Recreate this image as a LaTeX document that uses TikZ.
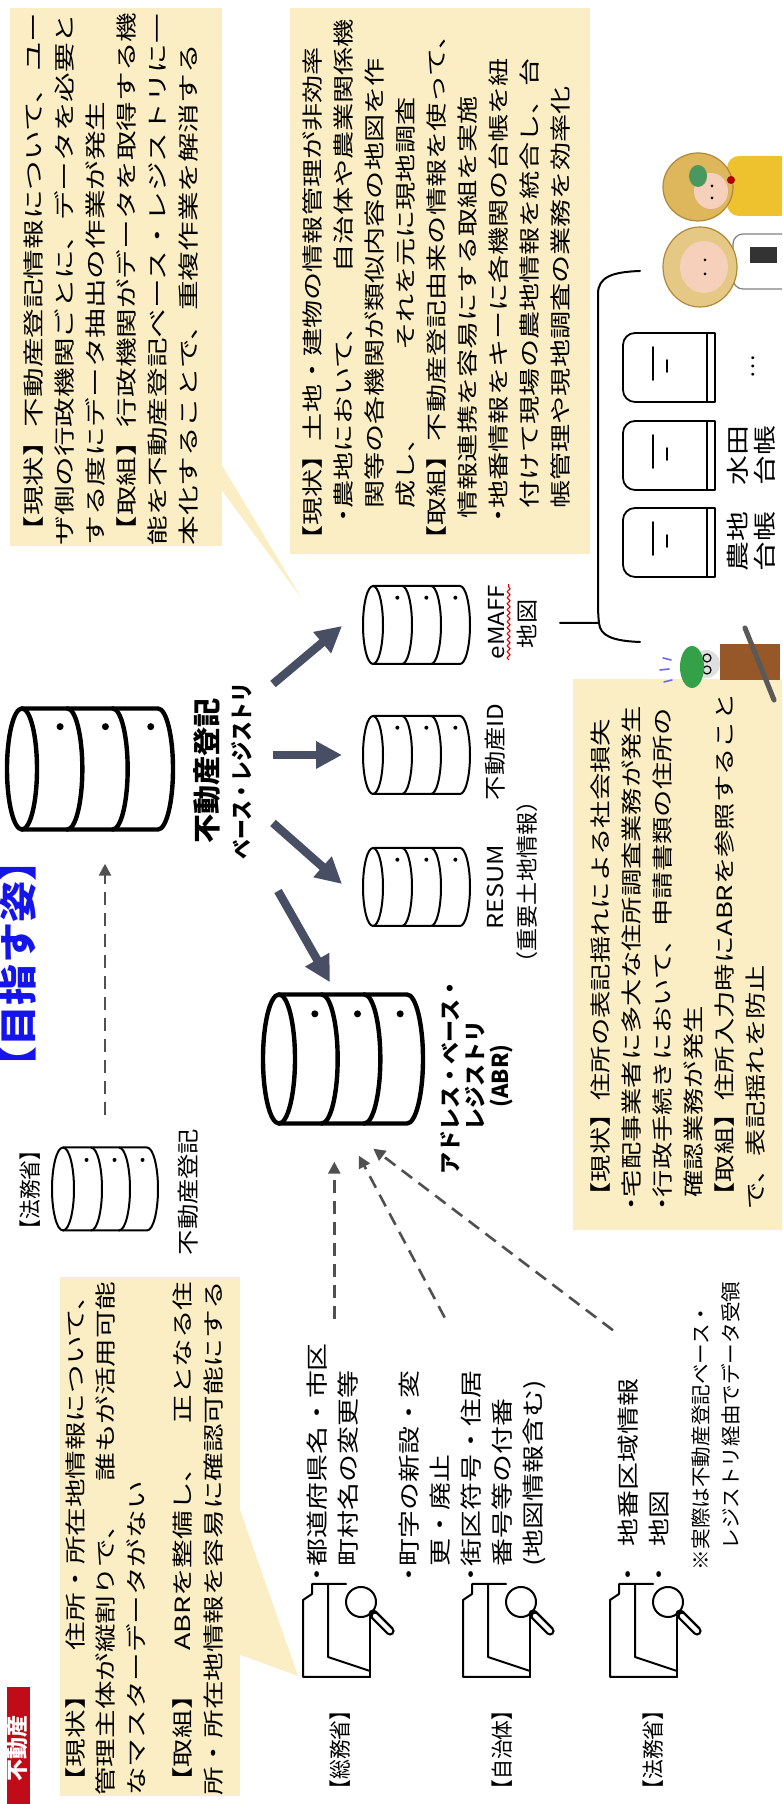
\documentclass[tikz,border=0pt]{standalone}
\usepackage{fontspec}
\usepackage{graphicx}
\usetikzlibrary{arrows.meta, calc, decorations.pathmorphing}

\newfontfamily\jp{Noto Sans CJK JP}

\definecolor{memo}{RGB}{251,238,196}
\definecolor{slate}{RGB}{72,78,100}
\definecolor{feedgray}{RGB}{80,80,80}
\definecolor{tagred}{RGB}{192,12,24}
\definecolor{goalblue}{RGB}{20,20,235}
\definecolor{straw}{RGB}{222,182,92}
\definecolor{strawdark}{RGB}{176,136,56}
\definecolor{skin}{RGB}{246,208,186}
\definecolor{dress}{RGB}{238,194,46}
\definecolor{scarf}{RGB}{74,152,96}
\definecolor{capgreen}{RGB}{52,160,72}
\definecolor{vest}{RGB}{150,88,40}

% stretch text along the reading direction
\newcommand{\wide}[2][1.28]{\scalebox{#1}[1]{#2}}

% upright drum of three discs, one dot per disc
% #1 centre, #2 top, #3 width, #4 height, #5 rim, #6 name, #7 dot, #8 style
\newcommand{\drum}[8]{%
  \begin{scope}[#8]
  \pgfmathsetmacro{\drx}{#3/2}
  \pgfmathsetmacro{\dtop}{-(#2)-(#5)}
  \pgfmathsetmacro{\dbot}{-(#2)-(#4)+(#5)}
  \pgfmathsetmacro{\dstep}{(\dtop-\dbot)/3}
  \node[inner sep=0pt, minimum width=#3*0.5pt, minimum height=#4*0.5pt] (#6) at (#1,{-(#2)-(#4)/2}) {};
  \draw (#1-\drx,\dtop) -- (#1-\drx,\dbot)
    arc[start angle=180, end angle=360, x radius=\drx, y radius=#5] -- (#1+\drx,\dtop);
  \draw (#1,\dtop) ellipse[x radius=\drx, y radius=#5];
  \foreach \k in {1,2}
    \draw (#1-\drx,\dtop-\k*\dstep) arc[start angle=180, end angle=360, x radius=\drx, y radius=#5];
  \foreach \k in {1,2,3}
    \fill ({#1+0.7*\drx},{\dtop-(\k-0.16)*\dstep}) circle[radius=#7];
  \end{scope}
}

\begin{document}
\begin{tikzpicture}[x=0.5pt, y=0.5pt, line cap=round, line join=round]
\tikzset{
  memotext/.style={anchor=base west, inner sep=0pt, font=\jp\fontsize{10.5pt}{15.5pt}\selectfont},
  itemtext/.style={anchor=base west, inner sep=0pt, font=\jp\fontsize{11pt}{15.5pt}\selectfont},
  orgtag/.style={inner sep=0pt, font=\jp\fontsize{11pt}{13pt}\selectfont},
  dbname/.style={inner sep=0pt, font=\jp\fontsize{11pt}{13pt}\selectfont},
  booklabel/.style={anchor=base, inner sep=0pt, font=\jp\fontsize{11.5pt}{13.5pt}\selectfont},
  fat/.style={draw=slate, line width=4.2pt, line cap=butt, -{Triangle[length=13pt, width=13pt]}},
  feed/.style={draw=feedgray, line width=1.3pt, line cap=butt, dash pattern=on 6.5pt off 4pt, -{Triangle[length=6pt, width=6pt]}},
  folder/.pic={
    \draw[line width=1pt] (3,-70) -- (3,-3) -- (80,-3) -- (86,-12) -- (96,-12) -- (96,-28);
    \draw[line width=1pt] (3,-70) -- (63,-70);
    \draw[line width=1pt] (9,-70) -- (23,-28) -- (96,-28) -- (96,-46);
    \draw[line width=1pt, fill=white] (78,-61) circle[radius=15];
    \draw[line width=4.6pt] (66,-73) -- (49,-90);
    \draw[white, line width=2.2pt] (64,-75) -- (49,-90);
  },
  ledger/.pic={
    \draw[line width=0.9pt, rounded corners=6pt] (0,-84) -- (0,0) -- (69,0) -- (69,-84);
    \draw[line width=1.2pt] (0,-84) -- (69,-84);
    \draw[line width=0.9pt] (0,-84) -- (0,-92) -- (69,-92) -- (69,-84);
    \draw[line width=0.9pt] (22,-30) -- (55,-30);
    \draw[line width=0.9pt] (30,-44) -- (42,-44);
  }
}

\begin{scope}[rotate=90, transform shape]
\useasboundingbox (0,0) rectangle (1804,-782);
\clip (0,0) rectangle (1804,-782);

% tag and heading
\fill[tagred] (-10,-7) rectangle (117,-30);
\node[anchor=base east, inner sep=0pt, text=white, font=\jp\bfseries\fontsize{11pt}{13pt}\selectfont] (tag) at (89,-26) {不動産};
\node[anchor=base, inner sep=0pt, text=goalblue, font=\jp\bfseries\fontsize{19pt}{21pt}\selectfont] (goal) at (840,-33) {\wide[1.08]{【目指す姿】}};

% memo boxes
\fill[memo] (8,-60) rectangle (527,-240);
\fill[memo] (150,-238) -- (300,-238) -- (128,-298) -- cycle;
\fill[memo] (1258,-10) rectangle (1796,-222);
\fill[memo] (1316,-220) -- (1342,-220) -- (1205,-302) -- cycle;
\fill[memo] (1250,-290) rectangle (1796,-590);
\fill[memo] (574,-573) rectangle (1125,-790);

\node[memotext] (addrnote) at (8,-83) {\wide[1.36]{\parbox[t]{18em}{\raggedright
【現状】\hfill 住所・所在地情報について、\\
管理主体が縦割りで、\hfill 誰もが活用可能\\
なマスターデータがない\\[7.5pt]
【取組】\hfill ABRを整備し、\hfill 正となる住\\
所・所在地情報を容易に確認可能にする}}};

\node[memotext] (regnote) at (1258,-41) {\wide[1.41]{\parbox[t]{18em}{\raggedright
【現状】不動産登記情報について、\hfill ユー\\
ザ側の行政機関ごとに、データを必要と\\
する度にデータ抽出の作業が発生\\
【取組】行政機関がデータを取得する機\\
能を不動産登記ベース・レジストリに一\\
本化することで、重複作業を解消する}}};

\node[memotext] (farmnote) at (1250,-320) {\wide[1.34]{\parbox[t]{19em}{\raggedright
【現状】土地・建物の情報管理が非効率\\
\hspace*{1.1em}\makebox[0.5em]{・}農地において、\hfill 自治体や農業関係機\\
\hspace*{1.6em}関等の各機関が類似内容の地図を作\\
\hspace*{1.6em}成し、\hspace{2.6em}それを元に現地調査\\
【取組】不動産登記由来の情報を使って、\\
\hspace*{1.25em}情報連携を容易にする取組を実施\\
\hspace*{1.1em}\makebox[0.5em]{・}地番情報をキーに各機関の台帳を紐\\
\hspace*{1.6em}付けて現場の農地情報を統合し、台\\
\hspace*{1.6em}帳管理や現地調査の業務を効率化}}};

\node[memotext] (addrissue) at (594,-608) {\wide[1.3]{\parbox[t]{19em}{\raggedright
【現状】住所の表記揺れによる社会損失\\
\makebox[0.45em]{・}宅配事業者に多大な住所調査業務が発生\\
\makebox[0.45em]{・}行政手続きにおいて、申請書類の住所の\\
\hspace*{0.45em}確認業務が発生\\
【取組】住所入力時にABRを参照すること\\
で、表記揺れを防止}}};

% data sources
\node[orgtag] (soumu) at (54,-340) {\wide[0.9]{【総務省】}};
\node[orgtag] (jichi) at (54,-502) {\wide[0.9]{【自治体】}};
\node[orgtag] (houmu) at (54,-653) {\wide[0.9]{【法務省】}};
\pic at (124,-300) {folder};
\pic at (124,-460) {folder};
\pic at (124,-607) {folder};

\node[itemtext] (soumuitems) at (237,-325) {\wide[1.27]{\begin{tabular}[t]{@{}l@{}}
\llap{\makebox[0.8em][l]{・}}都道府県名・市区\\
町村名の変更等\end{tabular}}};
\node[itemtext] (jichiitems) at (237,-417) {\wide[1.27]{\begin{tabular}[t]{@{}l@{}}
\llap{\makebox[0.8em][l]{・}}町字の新設・変\\
更・廃止\\
\llap{\makebox[0.8em][l]{・}}街区符号・住居\\
番号等の付番\\
(地図情報含む)\end{tabular}}};
\node[itemtext] (houmuitems) at (257,-636) {\wide[1.27]{\begin{tabular}[t]{@{}l@{}}
\llap{\makebox[1.5em][l]{・}}地番区域情報\\
\llap{\makebox[1.5em][l]{・}}地図\end{tabular}}};
\node[itemtext, font=\jp\fontsize{10pt}{15pt}\selectfont] (viareg) at (254,-708) {\wide[1.03]{\begin{tabular}[t]{@{}l@{}}
\llap{※}実際は不動産登記ベース・\\
レジストリ経由でデータ受領\end{tabular}}};

% registries
\drum{615}{52}{83}{106}{11}{tokidb}{2}{line width=1pt}
\node[orgtag] (tokiorg) at (614,-30) {\wide[0.9]{【法務省】}};
\node[dbname] (tokiname) at (612,-188) {\wide[1.15]{不動産登記}};

\drum{1035}{7}{121}{166}{15}{regdb}{3.5}{line width=2.2pt}
\node[inner sep=0pt, font=\jp\bfseries\fontsize{14pt}{16pt}\selectfont] (reglabel) at (1033,-207) {\wide[1.04]{不動産登記}};
\node[inner sep=0pt, font=\jp\bfseries\fontsize{11.5pt}{13pt}\selectfont] (reglabelsub) at (1033,-242) {\wide[0.86]{ベース・レジストリ}};

\drum{745}{263}{129}{160}{16}{abrdb}{3.5}{line width=2.2pt}
\node[anchor=base, inner sep=0pt, font=\jp\bfseries\fontsize{11pt}{11.5pt}\selectfont] (abrlabel) at (728,-458)
  {\begin{tabular}[t]{@{}c@{}}アドレス・ベース・\\レジストリ\\(ABR)\end{tabular}};

\drum{917}{363}{78}{107}{10}{resumdb}{2}{line width=1pt}
\drum{1049}{363}{78}{107}{10}{iddb}{2}{line width=1pt}
\drum{1179}{363}{78}{107}{10}{emaffdb}{2}{line width=1pt}
\node[dbname] (resumname) at (917,-495) {\wide[1.15]{RESUM}};
\node[dbname] (resumsub) at (922,-527) {\wide[1.05]{（重要土地情報）}};
\node[dbname] (idname) at (1052,-495) {\wide[1.1]{不動産ID}};
\node[dbname] (emaffname) at (1182,-497) {\wide[1.1]{eMAFF}};
\node[dbname] (emaffmap) at (1180,-527) {\wide[1.1]{地図}};
\draw[red!85!black, line width=0.5pt, decorate, decoration={snake, amplitude=0.8pt, segment length=3pt}]
  ($(emaffname.south west)+(0,-3)$) -- ($(emaffname.south east)+(0,-3)$);

% flows out of the registry
\coordinate (fan1) at (1120,-273);
\coordinate (fan2) at (1049,-273);
\coordinate (fan3) at (981,-273);
\coordinate (fan4) at (913,-278);
\draw[fat] (fan1) -- ($(emaffdb.north)+(-1,20)$);
\draw[fat] (fan2) -- ($(iddb.north)+(0,20)$);
\draw[fat] (fan3) -- ($(resumdb.north)+(3,20)$);
\draw[fat] (fan4) -- ($(abrdb.east)+(10,13)$);

% feeds
\draw[feed, shorten <=15.5pt, shorten >=16pt] (tokidb.east) -- (tokidb.east -| regdb.west);
\draw[feed, shorten <=12pt, shorten >=18pt] (soumuitems.east) -- (soumuitems.east -| abrdb.west);
\draw[feed, shorten <=30pt, shorten >=17pt] (jichiitems.east) -- (abrdb.west);
\draw[feed, shorten <=40pt, shorten >=19pt] (houmuitems.south east) -- (abrdb.west);

% ledgers under eMAFF
\draw[line width=1pt] (1162,-640) .. controls (1163,-613) and (1168,-600) .. (1181,-599) -- (1181,-560);
\draw[line width=1pt] (1181,-599) .. controls (1190,-598) and (1195,-598) .. (1205,-598) -- (1510,-598)
  .. controls (1527,-598) and (1532,-612) .. (1533,-640);
\pic at (1227,-623) {ledger};
\pic at (1314,-623) {ledger};
\pic at (1402,-623) {ledger};
\node[booklabel] (farmbook) at (1262,-746) {\wide[1.3]{\begin{tabular}[t]{@{}c@{}}農地\\台帳\end{tabular}}};
\node[booklabel] (paddybook) at (1348,-746) {\wide[1.3]{\begin{tabular}[t]{@{}c@{}}水田\\台帳\end{tabular}}};
\node[dbname] (morebooks) at (1437,-753) {…};

% farmers
\fill[dress, rounded corners=6pt] (1588,-792) rectangle (1648,-727);
\fill[straw, draw=strawdark, line width=0.6pt] (1617,-698) ellipse[x radius=34, y radius=35];
\fill[skin] (1613,-711) ellipse[x radius=18, y radius=17];
\fill[scarf] (1628,-698) ellipse[x radius=11, y radius=9];
\fill[red!70!black] (1624,-731) circle[radius=4];
\fill (1606,-712) circle[radius=1.5] (1618,-712) circle[radius=1.5];
\fill[white, draw=gray, line width=0.6pt, rounded corners=5pt] (1515,-792) rectangle (1570,-733);
\fill[black!80] (1541,-777) rectangle (1557,-750);
\fill[straw!75!white, draw=strawdark, line width=0.6pt] (1537,-700) ellipse[x radius=40, y radius=37];
\fill[skin] (1537,-704) ellipse[x radius=26, y radius=24];
\fill (1530,-705) circle[radius=1.5] (1544,-705) circle[radius=1.5];

% surveyor
\fill[vest] (1124,-780) rectangle (1160,-720);
\fill[gray!25] (1140,-706) circle[radius=14];
\draw[line width=0.6pt] (1134,-707) circle[radius=4] (1146,-707) circle[radius=4];
\fill[capgreen] (1137,-692) ellipse[x radius=21, y radius=12];
\draw[gray!70!black, line width=2.5pt] (1104,-774) -- (1176,-745);
\draw[blue!60, line width=0.8pt] (1122,-664) -- (1124,-672) (1134,-660) -- (1135,-669) (1146,-663) -- (1144,-671);
\end{scope}
\end{tikzpicture}
\end{document}
